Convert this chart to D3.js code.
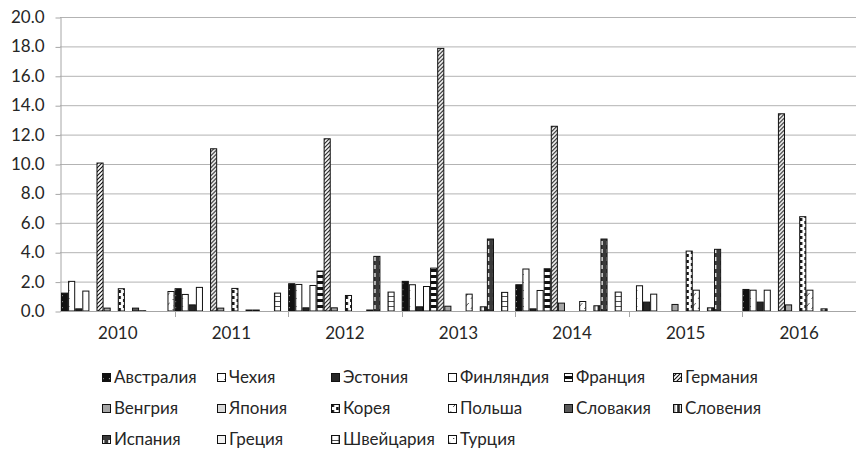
<!DOCTYPE html>
<html><head><meta charset="utf-8">
<script src="https://cdn.jsdelivr.net/npm/d3@7/dist/d3.min.js"></script>
<style>body{margin:0;background:#fff}svg{display:block}</style>
</head><body>
<svg id="c" width="857" height="452"></svg>
<script>
// ---- data ----
const years = ["2010", "2011", "2012", "2013", "2014", "2015", "2016"];
const countries = ["Австралия", "Чехия", "Эстония", "Финляндия", "Франция", "Германия",
  "Венгрия", "Япония", "Корея", "Польша", "Словакия", "Словения",
  "Испания", "Греция", "Швейцария", "Турция"];
const australia   = [1.25, 1.55, 1.89, 2.05, 1.82, 0,    1.50];
const czech       = [2.05, 1.16, 1.84, 1.82, 2.89, 1.75, 1.45];
const estonia     = [0.18, 0.45, 0.25, 0.32, 0.18, 0.64, 0.64];
const finland     = [1.39, 1.64, 1.77, 1.70, 1.43, 1.18, 1.45];
const france      = [0,    0,    2.75, 2.95, 2.91, 0,    0];
const germany     = [10.1, 11.07, 11.75, 17.9, 12.6, 0,  13.45];
const hungary     = [0.23, 0.23, 0.25, 0.36, 0.57, 0.48, 0.45];
const japan       = [0, 0, 0, 0, 0, 0, 0];
const korea       = [1.55, 1.57, 1.09, 0,    0,    4.11, 6.45];
const poland      = [0,    0,    0,    1.18, 0.68, 1.45, 1.45];
const slovakia    = [0.23, 0.10, 0,    0,    0,    0,    0];
const slovenia    = [0.05, 0.10, 0.10, 0.32, 0.39, 0.25, 0.18];
const spain       = [0,    0,    3.75, 4.93, 4.93, 4.23, 0];
const greece      = [0, 0, 0, 0, 0, 0, 0];
const switzerland = [0,    1.25, 1.32, 1.30, 1.32, 0,    0];
const turkey      = [1.36, 0,    0,    0,    0,    0,    0];
const yTicks = [0, 2, 4, 6, 8, 10, 12, 14, 16, 18, 20];

const seriesValues = [australia, czech, estonia, finland, france, germany, hungary, japan,
  korea, poland, slovakia, slovenia, spain, greece, switzerland, turkey];
const series = countries.map((name, i) => ({name, key: "p" + i, values: seriesValues[i]}));

// ---- layout ----
const svg = d3.select("#c");
const plotL = 60, plotR = 856, plotT = 17, base = 311;
const x0 = d3.scaleBand().domain(years).range([plotL + 1, plotR]).padding(0);
const x1 = d3.scaleBand().domain(countries).range([0, x0.bandwidth()]).padding(0);
const y = d3.scaleLinear().domain([0, 20]).range([base, plotT]);
const step = x1.step();
const FONT = "Lato, 'Open Sans', sans-serif";
const FS = 17;
const TXT = "#262626";

// ---- patterns ----
const defs = svg.append("defs");
function pat(id, w, h, draw) {
  const p = defs.append("pattern").attr("id", id).attr("patternUnits", "userSpaceOnUse")
    .attr("x", plotL + 1).attr("y", base).attr("width", w).attr("height", h);
  draw(p, w, h);
}
const rect = (p, x, yy, w, h, c) => p.append("rect").attr("x", x).attr("y", yy).attr("width", w).attr("height", h).attr("fill", c);
const line = (p, a, b, c, d, col, sw) => p.append("line").attr("x1", a).attr("y1", b).attr("x2", c).attr("y2", d).attr("stroke", col).attr("stroke-width", sw || 1);

pat("p0", step, 6, (p, w, h) => { rect(p, 0, 0, w, h, "#111"); rect(p, w / 2 - 0.5, 2, 1.2, 1.2, "#fff"); });
pat("p1", step, 8, (p, w, h) => { rect(p, 0, 0, w, h, "#fff"); rect(p, w / 2 - 0.5, 3, 1, 1, "#222"); });
pat("p2", step, 8, (p, w, h) => { rect(p, 0, 0, w, h, "#262626"); });
pat("p3", step, 8, (p, w, h) => { rect(p, 0, 0, w, h, "#fff"); });
pat("p4", step, 6, (p, w, h) => { rect(p, 0, 0, w, h, "#fff"); rect(p, 0, 0, w, 3, "#111"); });
pat("p5", 4, 4, (p, w, h) => { rect(p, 0, 0, w, h, "#fff"); line(p, 0, 4, 4, 0, "#111", 1.1); line(p, -1, 1, 1, -1, "#111", 1.1); line(p, 3, 5, 5, 3, "#111", 1.1); });
pat("p6", step, 8, (p, w, h) => { rect(p, 0, 0, w, h, "#a6a6a6"); });
pat("p7", step, 8, (p, w, h) => { rect(p, 0, 0, w, h, "#d9d9d9"); });
pat("p8", step, 6, (p, w, h) => { rect(p, 0, 0, w, h, "#fff"); rect(p, 1, 0, 2.5, 3, "#111"); rect(p, 3.5, 3, 2.5, 3, "#111"); });
pat("p9", step, 10, (p, w, h) => { rect(p, 0, 0, w, h, "#fff"); line(p, 1, 8, 6, 2, "#222", 0.8); });
pat("p10", step, 8, (p, w, h) => { rect(p, 0, 0, w, h, "#595959"); });
pat("p11", step, 8, (p, w, h) => { rect(p, 0, 0, w, h, "#fff"); rect(p, 0, 0, w / 2 - 1, h, "#262626"); rect(p, w / 2 + 0.5, 0, 0.8, h, "#262626"); });
pat("p12", step, 8, (p, w, h) => { rect(p, 0, 0, w, h, "#3a3a3a"); rect(p, 2, 2, w - 4, 4, "#fff"); });
pat("p13", step, 8, (p, w, h) => { rect(p, 0, 0, w, h, "#f2f2f2"); });
pat("p14", step, 5, (p, w, h) => { rect(p, 0, 0, w, h, "#fff"); rect(p, w / 2 - 0.4, 0, 0.8, h, "#222"); rect(p, 0, 0, w, 0.8, "#222"); });
pat("p15", step, 10, (p, w, h) => { rect(p, 0, 0, w, h, "#fff"); line(p, 2, 5, 5, 2, "#222", 0.8); rect(p, 1, 8, 1, 1, "#222"); });

// ---- gridlines ----
svg.append("g").selectAll("line").data(yTicks.filter(d => d > 0)).join("line")
  .attr("x1", plotL).attr("x2", plotR).attr("y1", d => y(d) + 0.5).attr("y2", d => y(d) + 0.5)
  .attr("stroke", "#b3b3b3").attr("stroke-width", 1);

// ---- y axis ----
const yAxis = svg.append("g").attr("transform", `translate(${plotL + 0.5},0)`)
  .call(d3.axisLeft(y).tickValues(yTicks).tickFormat(d3.format(".1f")).tickSize(5).tickSizeOuter(0));
yAxis.select(".domain").attr("stroke", "#a6a6a6");
yAxis.selectAll(".tick line").attr("stroke", "#a6a6a6").attr("transform", "translate(0,0.5)");
yAxis.selectAll("text").attr("fill", TXT).attr("font-family", FONT).attr("font-size", FS).attr("x", -16);

// ---- bars ----
const gCat = svg.append("g").selectAll("g").data(years).join("g")
  .attr("transform", d => `translate(${x0(d)},0)`);
gCat.selectAll("rect").data((yr, yi) => series.map(s => ({s, v: s.values[yi]})).filter(d => d.v > 0)).join("rect")
  .attr("x", d => x1(d.s.name) + 0.5)
  .attr("y", d => y(d.v) + 0.5)
  .attr("width", x1.bandwidth() - 1)
  .attr("height", d => Math.max(0, base - y(d.v) - 0.5))
  .attr("fill", d => `url(#${d.s.key})`)
  .attr("stroke", "#111").attr("stroke-width", 1);

// ---- x axis ----
svg.append("line").attr("x1", plotL).attr("x2", plotR).attr("y1", base + 0.5).attr("y2", base + 0.5).attr("stroke", "#a6a6a6");
const bounds = years.map(d => x0(d)).concat([plotR]);
svg.append("g").selectAll("line").data(bounds.slice(1, -1)).join("line")
  .attr("x1", d => Math.round(d) + 0.5).attr("x2", d => Math.round(d) + 0.5)
  .attr("y1", base).attr("y2", base + 6).attr("stroke", "#a6a6a6");
svg.append("g").selectAll("text").data(years).join("text")
  .attr("x", d => x0(d) + x0.bandwidth() / 2).attr("y", 339)
  .attr("text-anchor", "middle").attr("font-family", FONT).attr("font-size", FS).attr("fill", TXT)
  .text(d => d);

// ---- legend ----
const colX = [102, 217, 331, 448, 564, 673];
const rowY = [377, 408, 439];
const lg = svg.append("g").selectAll("g").data(series).join("g")
  .attr("transform", (d, i) => `translate(${colX[i % 6]},${rowY[Math.floor(i / 6)]})`);
lg.append("rect").attr("x", 0.5).attr("y", -3.5).attr("width", 8).attr("height", 8)
  .attr("fill", d => `url(#${d.key})`).attr("stroke", "#111");
lg.append("text").attr("x", 12).attr("y", 6).attr("font-family", FONT).attr("font-size", FS)
  .attr("fill", TXT).text(d => d.name);
</script>
</body></html>
